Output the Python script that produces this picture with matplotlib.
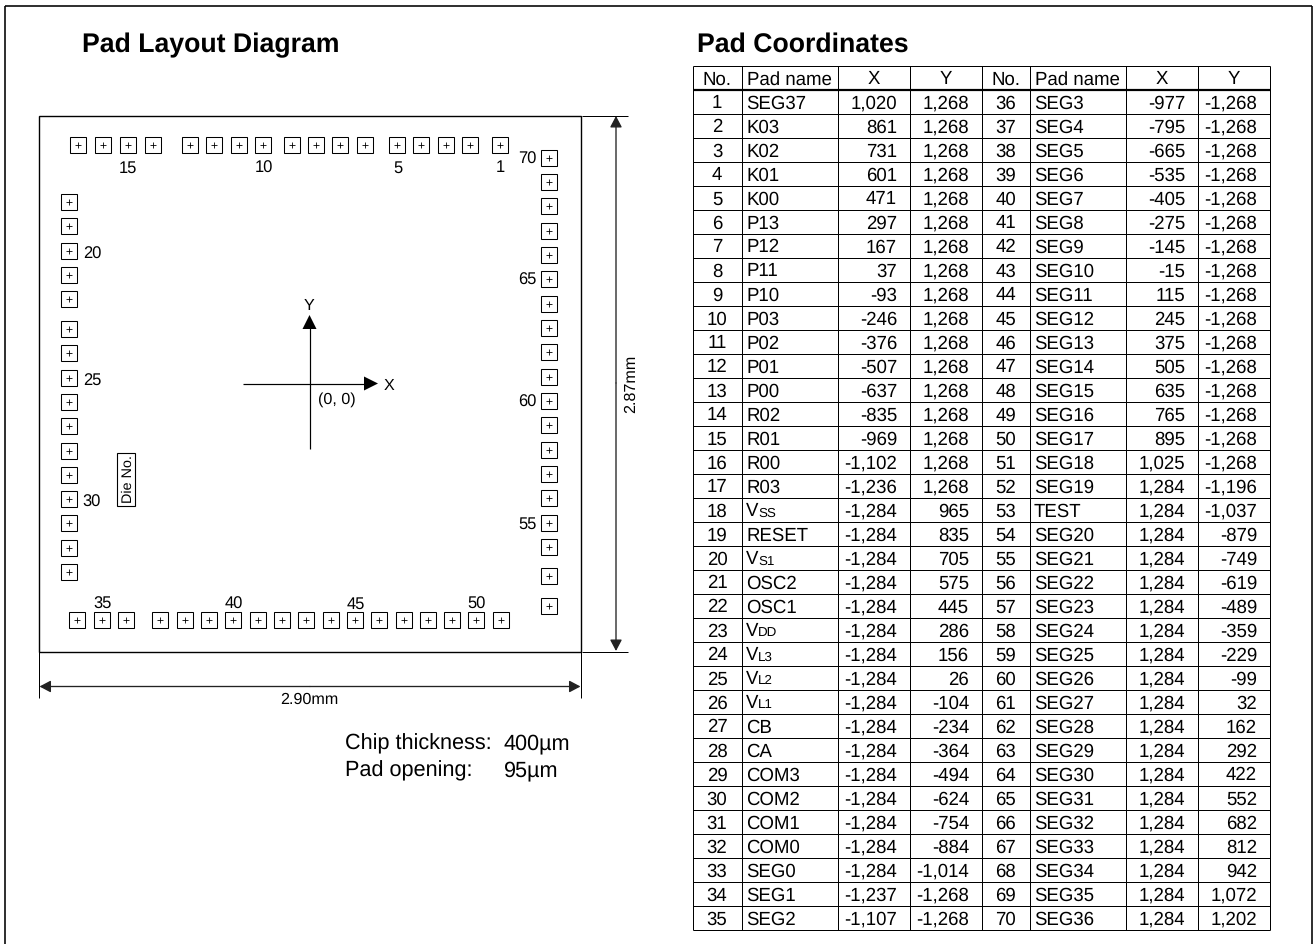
import matplotlib
matplotlib.use("Agg")
import matplotlib.pyplot as plt
from matplotlib.patches import Rectangle

plt.rcParams['font.family'] = ['Liberation Sans', 'DejaVu Sans']
plt.rcParams['text.hinting'] = 'none'

W, H = 1313, 944

# ---- data ----
pad_no = list(range(1, 71))
pad_name = ["SEG37", "K03", "K02", "K01", "K00", "P13", "P12", "P11", "P10", "P03",
            "P02", "P01", "P00", "R02", "R01", "R00", "R03", "V|SS", "RESET", "V|S1",
            "OSC2", "OSC1", "V|DD", "V|L3", "V|L2", "V|L1", "CB", "CA", "COM3", "COM2",
            "COM1", "COM0", "SEG0", "SEG1", "SEG2",
            "SEG3", "SEG4", "SEG5", "SEG6", "SEG7", "SEG8", "SEG9", "SEG10", "SEG11", "SEG12",
            "SEG13", "SEG14", "SEG15", "SEG16", "SEG17", "SEG18", "SEG19", "TEST", "SEG20", "SEG21",
            "SEG22", "SEG23", "SEG24", "SEG25", "SEG26", "SEG27", "SEG28", "SEG29", "SEG30", "SEG31",
            "SEG32", "SEG33", "SEG34", "SEG35", "SEG36"]
pad_x = [1020, 861, 731, 601, 471, 297, 167, 37, -93, -246,
         -376, -507, -637, -835, -969, -1102, -1236, -1284, -1284, -1284,
         -1284, -1284, -1284, -1284, -1284, -1284, -1284, -1284, -1284, -1284,
         -1284, -1284, -1284, -1237, -1107,
         -977, -795, -665, -535, -405, -275, -145, -15, 115, 245,
         375, 505, 635, 765, 895, 1025, 1284, 1284, 1284, 1284,
         1284, 1284, 1284, 1284, 1284, 1284, 1284, 1284, 1284, 1284,
         1284, 1284, 1284, 1284, 1284]
pad_y = [1268, 1268, 1268, 1268, 1268, 1268, 1268, 1268, 1268, 1268,
         1268, 1268, 1268, 1268, 1268, 1268, 1268, 965, 835, 705,
         575, 445, 286, 156, 26, -104, -234, -364, -494, -624,
         -754, -884, -1014, -1268, -1268,
         -1268, -1268, -1268, -1268, -1268, -1268, -1268, -1268, -1268, -1268,
         -1268, -1268, -1268, -1268, -1268, -1268, -1196, -1037, -879, -749,
         -619, -489, -359, -229, -99, 32, 162, 292, 422, 552,
         682, 812, 942, 1072, 1202]
headers = ["No.", "Pad name", "X", "Y"]
labelled_top = [1, 5, 10, 15]
labelled_left = [20, 25, 30]
labelled_bottom = [35, 40, 45, 50]
labelled_right = [55, 60, 65, 70]

col_edges = [692.5, 741.5, 837.5, 909.5, 981.5, 1029.5, 1125.5, 1197.5, 1269.5]
row_top, head_bot, row_h = 66, 90, 24
TS = 13.4

fig = plt.figure(figsize=(W / 100, H / 100), dpi=100, facecolor='white')
pg = fig.add_axes([0, 0, 1, 1])
pg.set_xlim(0, W)
pg.set_ylim(H, 0)
pg.axis('off')


def line(xs, ys, lw=1.0, color='black'):
    pg.plot(xs, ys, color=color, lw=lw * 0.72, solid_capstyle='butt', clip_on=False)


def arrow(x0, y0, x1, y1):
    pg.annotate('', xy=(x1, y1), xytext=(x0, y0),
                arrowprops=dict(arrowstyle='-|>,head_length=0.68,head_width=0.36',
                                lw=0.95, color='#222222', shrinkA=0, shrinkB=0,
                                mutation_scale=10))


# page frame
line([5, 5], [H, 5.5], 1.6)
line([5, 1311.5], [5.5, 5.5], 1.6)
line([1311.5, 1311.5], [5.5, H], 1.6)

# titles
pg.text(82, 52, "Pad Layout Diagram", fontsize=19.2, fontweight='bold', va='baseline', ha='left')
pg.text(697, 52, "Pad Coordinates", fontsize=19.2, fontweight='bold', va='baseline', ha='left')

# die outline and dimensions
pg.add_patch(Rectangle((39, 115.5), 541.5, 536, fill=False, ec='black', lw=1.0))
line([582, 628], [115.5, 115.5])
line([582, 628], [651.5, 651.5])
line([39, 39], [651, 698])
line([581, 581], [651, 698])
arrow(616, 383, 616, 116)
arrow(616, 383, 616, 651)
arrow(310, 686.5, 39.5, 686.5)
arrow(310, 686.5, 580.5, 686.5)
pg.text(635.5, 383.5, "2.87mm", rotation=90, rotation_mode='anchor', fontsize=11.6,
        ha='center', va='baseline')
pg.text(309, 704, "2.90mm", fontsize=11.6, ha='center', va='baseline')

# notes
pg.text(345, 749, "Chip thickness:", fontsize=15.6, va='baseline')
pg.text(504, 749, "400\u00b5m", fontsize=15.6, va='baseline')
pg.text(345, 776, "Pad opening:", fontsize=15.6, va='baseline')
pg.text(504, 776, "95\u00b5m", fontsize=15.6, va='baseline')

# die no
pg.add_patch(Rectangle((116.5, 453), 18, 53, fill=False, ec='black', lw=0.8))
pg.text(132, 479, "Die No.", rotation=90, rotation_mode='anchor', fontsize=10.4,
        ha='center', va='baseline')

# pads in micron coordinates
sx, sy = 0.18715, 0.187
cx, cy = 309.0, 382.5
chip = fig.add_axes([39 / W, 1 - 651 / H, 542 / W, 536 / H])
chip.set_xlim((39 - cx) / sx, (581 - cx) / sx)
chip.set_ylim((cy - 651) / sy, (cy - 115) / sy)
chip.axis('off')
chip.patch.set_alpha(0)
chip.plot(pad_x, pad_y, ls='none', marker='s', ms=12.0, mfc='white', mec='black', mew=0.75)
chip.plot(pad_x, pad_y, ls='none', marker='+', ms=5.0, mec='black', mew=0.6)


def pad_label(nums, dx, dy, ha):
    for n in nums:
        chip.annotate(str(n), xy=(pad_x[n - 1], pad_y[n - 1]), xytext=(dx, dy),
                      textcoords='offset pixels', fontsize=11.9, ha=ha, va='baseline')


pad_label(labelled_top, 0.5, -27, 'center')
pad_label(labelled_left, 14, -8, 'left')
pad_label(labelled_bottom, 0.5, 11, 'center')
pad_label(labelled_right, -13, -6, 'right')

# centre cross
line([243, 368], [383.5, 383.5], 1.2)
line([309.5, 309.5], [328, 449], 1.2)
pg.fill([309.5, 302.5, 316.5], [315, 329, 329], color='black', lw=0)
pg.fill([378, 364, 364], [383.5, 376.5, 390.5], color='black', lw=0)
pg.text(389, 389.5, "X", fontsize=11.6, ha='center', va='baseline')
pg.text(309, 310, "Y", fontsize=11.6, ha='center', va='baseline')
pg.text(337, 403.5, "(0, 0)", fontsize=11.6, ha='center', va='baseline')

# table
n_rows = 35
bottom = head_bot + n_rows * row_h
for x in col_edges:
    line([x, x], [row_top, bottom], 1.0)
for i in range(n_rows + 1):
    y = head_bot + i * row_h
    line([col_edges[0], col_edges[-1]], [y, y], 2.2 if i == 0 else 1.0)
line([col_edges[0], col_edges[-1]], [row_top, row_top], 1.0)


def fmt(v):
    return f"{v:,}"


for block in range(2):
    c = block * 4
    for j, h in enumerate(headers):
        pg.text((col_edges[c + j] + col_edges[c + j + 1]) / 2, 84.5, h, fontsize=TS,
                ha='center', va='baseline')
    for r in range(n_rows):
        k = r + block * n_rows
        y = head_bot + r * row_h + 18.5
        pg.text((col_edges[c] + col_edges[c + 1]) / 2, y, str(pad_no[k]), fontsize=TS,
                ha='center', va='baseline')
        nx = col_edges[c + 1] + 4.5
        name = pad_name[k]
        if '|' in name:
            a, b = name.split('|')
            pg.text(nx, y, a, fontsize=TS, ha='left', va='baseline')
            pg.text(nx + 12.4, y, b, fontsize=9.6, ha='left', va='baseline')
        else:
            pg.text(nx, y, name, fontsize=TS, ha='left', va='baseline')
        pg.text(col_edges[c + 3] - 12.5, y, fmt(pad_x[k]), fontsize=TS, ha='right', va='baseline')
        pg.text(col_edges[c + 4] - 12.5, y, fmt(pad_y[k]), fontsize=TS, ha='right', va='baseline')

fig.savefig('out.png', dpi=100, facecolor='white')
